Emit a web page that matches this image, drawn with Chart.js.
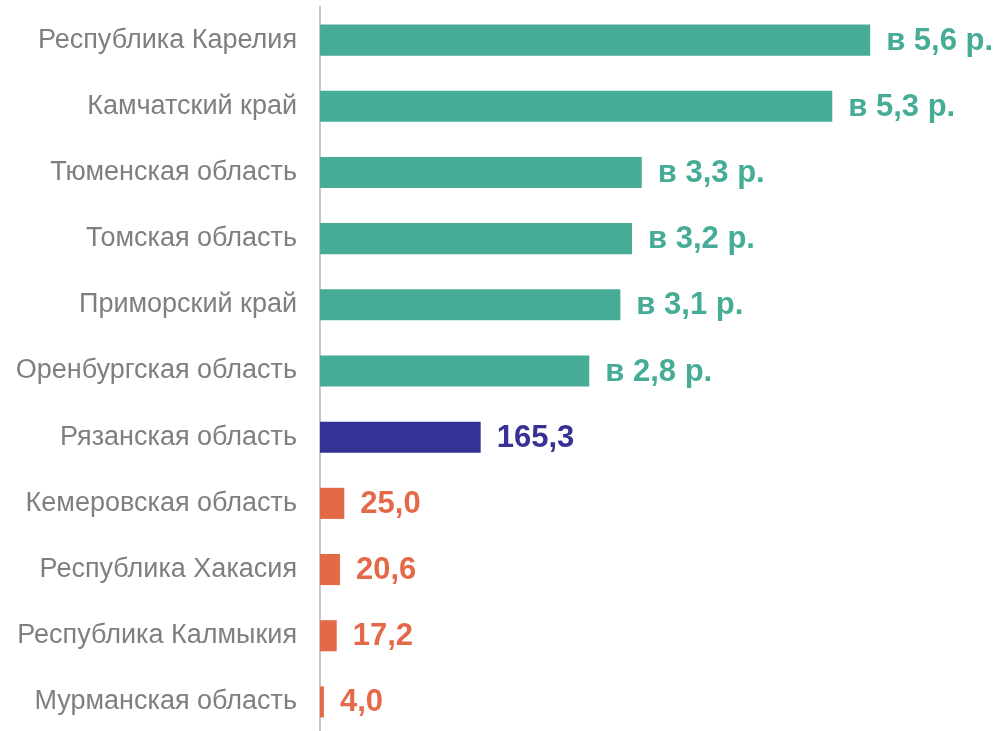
<!DOCTYPE html>
<html>
<head>
<meta charset="utf-8">
<script src="https://cdn.jsdelivr.net/npm/chart.js@4"></script>
<style>
  html, body { margin: 0; padding: 0; background: #fff; overflow: hidden; }
</style>
</head>
<body>
<canvas id="regionChart" width="999" height="736"></canvas>
<script>
// регионы и значения (в процентах; "в 5,6 р." ~ 566)
const regions = [
    'Республика Карелия',
    'Камчатский край',
    'Тюменская область',
    'Томская область',
    'Приморский край',
    'Оренбургская область',
    'Рязанская область',
    'Кемеровская область',
    'Республика Хакасия',
    'Республика Калмыкия',
    'Мурманская область'
];
const values = [566, 527, 331, 321, 309, 277, 165.3, 25.0, 20.6, 17.2, 4.0];
const valueLabels = ['в 5,6 р.', 'в 5,3 р.', 'в 3,3 р.', 'в 3,2 р.', 'в 3,1 р.', 'в 2,8 р.', '165,3', '25,0', '20,6', '17,2', '4,0'];

const teal = '#46ac98';
const navy = '#353195';
const orange = '#e46948';
const barColors = values.map((v, i) => i < 6 ? teal : (i === 6 ? navy : orange));

// подписи значений справа от столбцов
const valueLabelPlugin = {
    id: 'valueLabels',
    afterDatasetsDraw(chart) {
        const ctx = chart.ctx;
        const meta = chart.getDatasetMeta(0);
        ctx.save();
        ctx.font = 'bold 31px "Liberation Sans", Arial, sans-serif';
        ctx.textAlign = 'left';
        ctx.textBaseline = 'middle';
        meta.data.forEach((bar, i) => {
            ctx.fillStyle = barColors[i];
            ctx.fillText(valueLabels[i], bar.x + 16, bar.y + 1);
        });
        ctx.restore();
    }
};

const ctx = document.getElementById('regionChart').getContext('2d');

window.myChart = new Chart(ctx, {
    type: 'bar',
    data: {
        labels: regions,
        datasets: [{
            data: values,
            backgroundColor: barColors,
            borderWidth: 0,
            barPercentage: 0.47,
            categoryPercentage: 1
        }]
    },
    options: {
        indexAxis: 'y',
        responsive: false,
        animation: false,
        layout: {
            padding: { top: 7, bottom: 1, right: 18 }
        },
        plugins: {
            legend: { display: false },
            tooltip: { enabled: false }
        },
        scales: {
            x: {
                display: false,
                min: 0,
                max: 680
            },
            y: {
                afterFit: (scale) => {
                    scale.width = 320;
                    scale.paddingTop = 0;
                    scale.paddingBottom = 0;
                },
                grid: {
                    display: true,
                    drawOnChartArea: false,
                    drawTicks: true,
                    tickLength: 23,
                    color: 'rgba(0,0,0,0)'
                },
                border: { display: true, color: '#c8c8c8', width: 2 },
                ticks: {
                    padding: 0,
                    color: '#7f7f7f',
                    font: { family: '"Liberation Sans", Arial, sans-serif', size: 27 }
                }
            }
        }
    },
    plugins: [valueLabelPlugin]
});
</script>
</body>
</html>
